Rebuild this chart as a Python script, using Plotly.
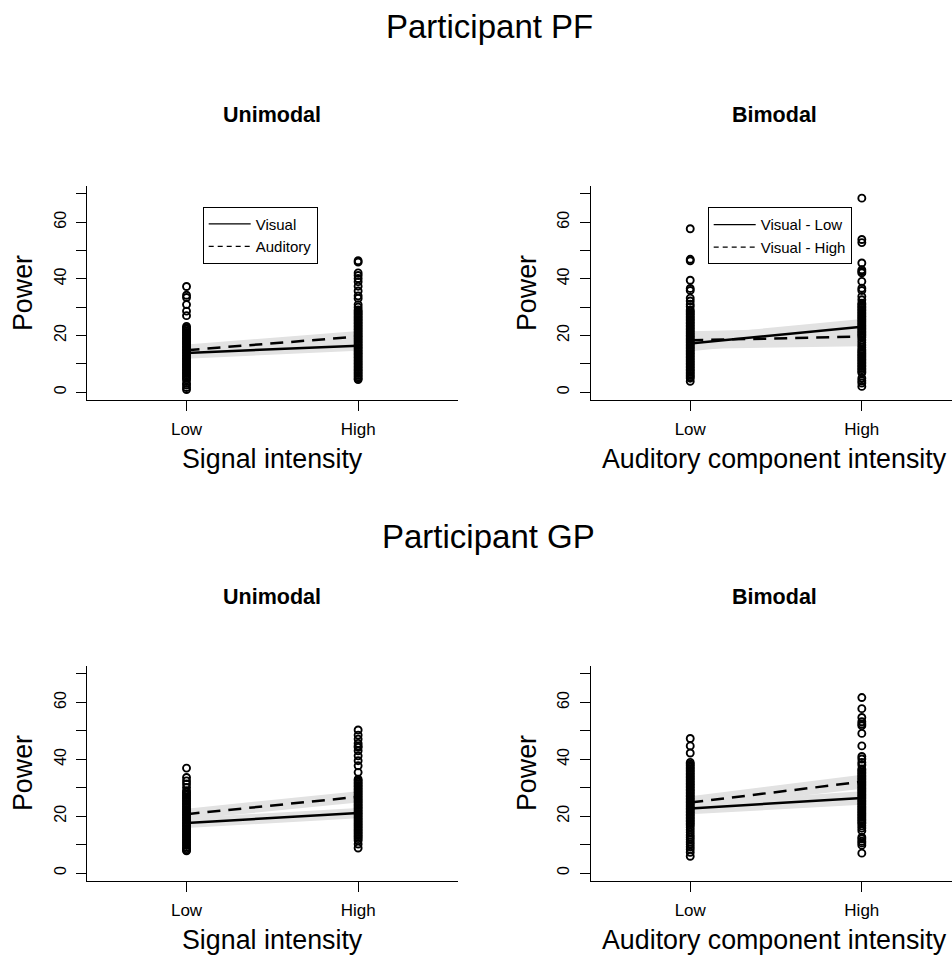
import plotly.graph_objects as go

# ---------------- data ----------------
intensity = ["Low", "High"]
y_ticks = [0, 10, 20, 30, 40, 50, 60, 70]
y_ticktext = ["0", "", "20", "", "40", "", "60", ""]

# Participant PF - Unimodal
pf_uni_low = [37.3, 34.2, 33.4, 30.9, 28.6, 27.0, 23.2, 22.7, 22.2, 21.6, 21.1, 20.5, 20.0,
              19.4, 18.9, 18.4, 17.8, 17.3, 16.8, 16.2, 15.7, 15.1, 14.6, 14.1, 13.5, 13.0,
              12.4, 11.9, 11.4, 10.8, 10.3, 9.7, 9.2, 8.7, 8.1, 7.6, 7.0, 6.5, 6.0, 5.4, 4.9,
              4.3, 3.1, 2.5, 1.6, 0.9]
pf_uni_high = [46.4, 45.9, 42.1, 41.2, 40.1, 39.0, 37.4, 35.7, 34.0, 33.1, 30.9, 30.0, 29.0,
               28.5, 27.9, 27.4, 26.8, 26.3, 25.7, 25.2, 24.6, 24.1, 23.5, 23.0, 22.4, 21.9,
               21.3, 20.8, 20.2, 19.7, 19.1, 18.6, 18.0, 17.5, 16.9, 16.4, 15.8, 15.3, 14.7,
               14.2, 13.6, 13.1, 12.5, 12.0, 11.4, 10.9, 10.3, 9.8, 9.2, 8.7, 8.1, 7.6, 7.0,
               6.5, 5.9, 5.4, 4.8, 4.4]
pf_uni_visual = [13.8, 16.4]
pf_uni_visual_lo = [11.8, 14.6]
pf_uni_visual_hi = [15.8, 18.3]
pf_uni_auditory = [14.8, 19.6]
pf_uni_auditory_lo = [12.8, 17.6]
pf_uni_auditory_hi = [16.8, 21.6]

# Participant PF - Bimodal
pf_bi_low = [57.7, 46.9, 46.4, 39.5, 36.6, 35.9, 33.2, 32.2, 31.0, 30.2, 29.0, 28.5, 27.9,
             27.4, 26.8, 26.3, 25.7, 25.2, 24.6, 24.1, 23.5, 23.0, 22.4, 21.9, 21.3, 20.8,
             20.2, 19.7, 19.1, 18.6, 18.0, 17.5, 16.9, 16.4, 15.8, 15.3, 14.7, 14.2, 13.6,
             13.1, 12.5, 12.0, 11.4, 10.9, 10.3, 9.8, 9.2, 8.7, 8.1, 7.6, 7.0, 6.5, 5.9, 5.4,
             4.9, 3.8]
pf_bi_high = [68.5, 53.9, 52.8, 45.6, 43.2, 42.6, 42.1, 39.1, 36.7, 35.9, 33.8, 32.6, 31.4,
              30.9, 30.3, 29.8, 29.2, 28.7, 28.1, 27.6, 27.0, 26.5, 25.9, 25.4, 24.8, 24.3,
              23.7, 23.2, 22.6, 22.1, 21.5, 21.0, 20.4, 19.9, 19.3, 18.4, 17.5, 16.6, 15.8,
              15.0, 14.5, 13.9, 13.4, 12.8, 12.3, 11.7, 11.2, 10.6, 10.1, 9.5, 9.0, 8.4, 7.9,
              7.3, 6.8, 4.9, 4.0, 3.2, 2.0]
pf_bi_vlow = [17.2, 23.1]
pf_bi_vlow_lo = [14.4, 20.4]
pf_bi_vlow_hi = [20.0, 25.8]
pf_bi_vhigh = [18.3, 19.6]
pf_bi_vhigh_lo = [15.2, 16.2]
pf_bi_vhigh_hi = [21.5, 23.0]

# Participant GP - Unimodal
gp_uni_low = [36.9, 33.6, 32.4, 31.3, 30.1, 28.9, 28.4, 27.8, 27.3, 26.7, 26.2, 25.6, 25.1,
              24.5, 24.0, 23.4, 22.9, 22.3, 21.8, 21.2, 20.7, 20.1, 19.6, 19.0, 18.5, 17.9,
              17.4, 16.8, 16.3, 15.7, 15.2, 14.6, 14.1, 13.5, 13.0, 12.4, 11.9, 11.3, 10.8,
              10.2, 9.7, 9.1, 8.6, 8.1, 7.8]
gp_uni_high = [50.3, 48.5, 47.1, 45.6, 44.7, 44.2, 43.0, 41.2, 39.5, 37.7, 35.4, 33.0, 32.5,
               31.9, 31.4, 30.8, 30.3, 29.7, 29.2, 28.6, 28.1, 27.5, 27.0, 26.4, 25.9, 25.3,
               24.8, 24.2, 23.7, 23.1, 22.6, 22.0, 21.5, 20.9, 20.4, 19.8, 19.3, 18.7, 18.2,
               17.6, 17.1, 16.5, 16.0, 15.4, 14.9, 14.3, 13.8, 13.2, 12.7, 12.1, 11.4, 10.2,
               8.8]
gp_uni_visual = [17.6, 21.1]
gp_uni_visual_lo = [15.8, 19.3]
gp_uni_visual_hi = [19.4, 22.9]
gp_uni_auditory = [20.7, 26.8]
gp_uni_auditory_lo = [18.8, 24.8]
gp_uni_auditory_hi = [22.6, 28.8]

# Participant GP - Bimodal
gp_bi_low = [47.3, 44.7, 42.2, 38.9, 38.3, 37.8, 37.2, 36.7, 36.1, 35.6, 35.0, 34.5, 33.9,
             33.4, 32.8, 32.3, 31.7, 31.2, 30.6, 30.1, 29.5, 29.0, 28.4, 27.9, 27.3, 26.8,
             26.2, 25.7, 25.1, 24.6, 24.0, 23.5, 22.9, 22.4, 21.8, 21.3, 20.7, 20.2, 19.6,
             19.1, 18.5, 18.0, 17.4, 16.9, 16.1, 15.2, 14.3, 13.4, 12.6, 11.8, 10.9, 10.1,
             9.2, 8.4, 7.3, 5.9]
gp_bi_high = [61.7, 57.8, 54.7, 53.2, 52.4, 51.8, 49.1, 44.7, 41.0, 40.1, 38.9, 38.0, 36.6,
              36.1, 35.5, 35.0, 34.4, 33.9, 33.3, 32.8, 32.2, 31.7, 31.1, 30.6, 30.0, 29.5,
              28.9, 28.4, 27.8, 27.3, 26.7, 26.2, 25.6, 25.1, 24.5, 24.0, 23.4, 22.9, 22.3,
              21.8, 21.2, 20.7, 20.1, 19.6, 19.0, 18.5, 17.9, 17.4, 16.6, 15.8, 14.9, 12.6,
              12.0, 11.2, 10.6, 9.8, 7.0]
gp_bi_vlow = [22.7, 26.4]
gp_bi_vlow_lo = [20.7, 24.0]
gp_bi_vlow_hi = [24.7, 28.8]
gp_bi_vhigh = [24.8, 32.1]
gp_bi_vhigh_lo = [22.6, 29.6]
gp_bi_vhigh_hi = [27.0, 34.6]

# ---------------- geometry ----------------
W, H = 952, 956
FONT = "Liberation Sans, Arial, sans-serif"
xpos = [1, 2]  # positions of the intensity categories


def px_x(p):
    return p / W


def px_y(p):
    return 1 - p / H


fig = go.Figure()

panels = [
    ("", pf_uni_low, pf_uni_high,
     (pf_uni_visual, pf_uni_visual_lo, pf_uni_visual_hi),
     (pf_uni_auditory, pf_uni_auditory_lo, pf_uni_auditory_hi),
     ["Visual", "Auditory"], "legend"),
    ("2", pf_bi_low, pf_bi_high,
     (pf_bi_vlow, pf_bi_vlow_lo, pf_bi_vlow_hi),
     (pf_bi_vhigh, pf_bi_vhigh_lo, pf_bi_vhigh_hi),
     ["Visual - Low", "Visual - High"], "legend2"),
    ("3", gp_uni_low, gp_uni_high,
     (gp_uni_visual, gp_uni_visual_lo, gp_uni_visual_hi),
     (gp_uni_auditory, gp_uni_auditory_lo, gp_uni_auditory_hi),
     None, None),
    ("4", gp_bi_low, gp_bi_high,
     (gp_bi_vlow, gp_bi_vlow_lo, gp_bi_vlow_hi),
     (gp_bi_vhigh, gp_bi_vhigh_lo, gp_bi_vhigh_hi),
     None, None),
]

BAND = "#e2e2e2"
DASH = "13px,8px"

for suf, lows, highs, s1, s2, names, leg in panels:
    xa, ya = "x" + suf, "y" + suf
    # confidence bands
    for (line, lo, hi) in (s1, s2):
        fig.add_trace(go.Scatter(
            x=[xpos[0], xpos[1], xpos[1], xpos[0]],
            y=[lo[0], lo[1], hi[1], hi[0]],
            fill="toself", fillcolor=BAND, mode="lines", line=dict(width=0),
            showlegend=False, hoverinfo="skip", xaxis=xa, yaxis=ya))
    # raw observations
    fig.add_trace(go.Scatter(
        x=[xpos[0]] * len(lows) + [xpos[1]] * len(highs),
        y=lows + highs, mode="markers",
        marker=dict(symbol="circle-open", size=7, color="black",
                    line=dict(width=1.9, color="black")),
        showlegend=False, xaxis=xa, yaxis=ya))
    # fitted lines
    fig.add_trace(go.Scatter(x=xpos, y=s1[0], mode="lines",
                             line=dict(color="black", width=2.5),
                             showlegend=False, xaxis=xa, yaxis=ya))
    fig.add_trace(go.Scatter(x=xpos, y=s2[0], mode="lines",
                             line=dict(color="black", width=2.5, dash=DASH),
                             showlegend=False, xaxis=xa, yaxis=ya))
    if names:
        fig.add_trace(go.Scatter(x=[None], y=[None], mode="lines", name=names[0],
                                 line=dict(color="black", width=1.3),
                                 legend=leg, xaxis=xa, yaxis=ya))
        fig.add_trace(go.Scatter(x=[None], y=[None], mode="lines", name=names[1],
                                 line=dict(color="black", width=1.3, dash="5px,4px"),
                                 legend=leg, xaxis=xa, yaxis=ya))

# axes
PXU = 171.6  # pixels per category step
left_x = [87, 590.7, 87, 590.7]
right_x = [87 + 2.16 * PXU, 952, 87 + 2.16 * PXU, 952]
top_y = [186, 186, 666, 666]
bot_y = [400, 400, 881, 881]
suffixes = ["", "2", "3", "4"]

layout = dict(
    width=W, height=H, margin=dict(l=0, r=0, t=0, b=0),
    paper_bgcolor="white", plot_bgcolor="white",
    font=dict(family=FONT, color="black"),
)
for i, suf in enumerate(suffixes):
    xr0 = 0.42
    xr1 = 0.42 + (right_x[i] - left_x[i]) / PXU
    layout["xaxis" + suf] = dict(
        domain=[px_x(left_x[i]), px_x(right_x[i])], range=[xr0, xr1],
        anchor="y" + suf, showline=True, linecolor="black", linewidth=1,
        ticks="outside", ticklen=10, tickcolor="black", tickwidth=1,
        tickvals=xpos, ticktext=intensity, tickfont=dict(size=17, family=FONT),
        showgrid=False, zeroline=False, ticklabelstandoff=4)
    layout["yaxis" + suf] = dict(
        domain=[px_y(bot_y[i]), px_y(top_y[i])], range=[-2.8, 72.8],
        anchor="x" + suf, showline=True, linecolor="black", linewidth=1,
        ticks="outside", ticklen=10, tickcolor="black", tickwidth=1,
        tickvals=y_ticks, ticktext=y_ticktext, tickangle=-90,
        tickfont=dict(size=16, family=FONT), ticklabelstandoff=4,
        showgrid=False, zeroline=False)

legend_style = dict(bordercolor="black", borderwidth=1, bgcolor="white",
                    font=dict(size=15, family=FONT), xanchor="left", yanchor="top",
                    tracegroupgap=0, itemwidth=42)
layout["legend"] = dict(x=px_x(202.7), y=px_y(206.7), **legend_style)
layout["legend2"] = dict(x=px_x(707.7), y=px_y(207.3), **legend_style)

fig.update_layout(**layout)

# titles and axis labels
ann = []


def add_text(text, x, y, size, bold=False, angle=0):
    ann.append(dict(text=("<b>%s</b>" % text) if bold else text,
                    x=px_x(x), y=px_y(y), xref="paper", yref="paper",
                    xanchor="center", yanchor="middle", showarrow=False,
                    textangle=angle, font=dict(size=size, family=FONT, color="black")))


add_text("Participant PF", 490, 26, 33)
add_text("Participant GP", 489, 536, 33)
add_text("Unimodal", 272, 115, 21.5, bold=True)
add_text("Bimodal", 774, 115, 21.5, bold=True)
add_text("Unimodal", 272, 597, 21.5, bold=True)
add_text("Bimodal", 774, 597, 21.5, bold=True)
add_text("Signal intensity", 272, 459, 26.8)
add_text("Auditory component intensity", 774, 459, 26.8)
add_text("Signal intensity", 272, 940, 26.8)
add_text("Auditory component intensity", 774, 940, 26.8)
add_text("Power", 23, 293, 26.8, angle=-90)
add_text("Power", 527, 293, 26.8, angle=-90)
add_text("Power", 23, 773, 26.8, angle=-90)
add_text("Power", 527, 773, 26.8, angle=-90)
fig.update_layout(annotations=ann)

fig.write_html("out.html")
